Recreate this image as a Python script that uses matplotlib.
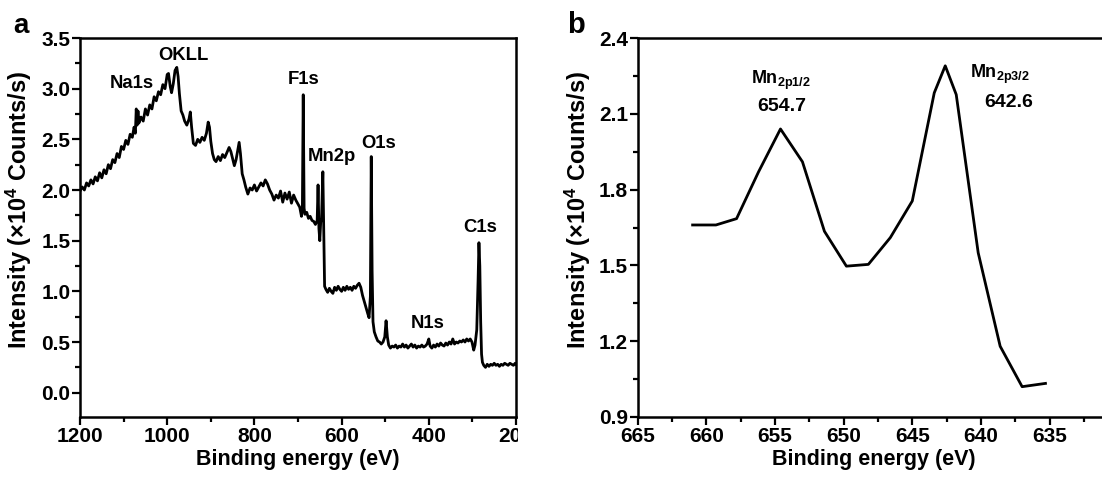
import numpy as np
import matplotlib
matplotlib.use('Agg')
import matplotlib.pyplot as plt
from matplotlib.ticker import MultipleLocator
from matplotlib.transforms import Bbox, TransformedBbox

plt.rcParams['font.family'] = ['Liberation Sans', 'DejaVu Sans']
plt.rcParams['font.weight'] = 'bold'
plt.rcParams['mathtext.fontset'] = 'custom'
plt.rcParams['mathtext.rm'] = 'Liberation Sans:bold'
plt.rcParams['mathtext.bf'] = 'Liberation Sans:bold'
plt.rcParams['mathtext.it'] = 'Liberation Sans:bold'

# survey spectrum (panel a)
survey_energy = [1200, 1195, 1190, 1185, 1180, 1175, 1170, 1165, 1160, 1155, 1150, 1145, 1140, 1135,
                 1130, 1125, 1120, 1115, 1110, 1105, 1100, 1095, 1090, 1085, 1080, 1076, 1073, 1071,
                 1069, 1067, 1065, 1060, 1055, 1050, 1045, 1040, 1035, 1030, 1025, 1020, 1015, 1010,
                 1005, 1000, 997, 993, 990, 986, 982, 978, 975, 972, 968, 964, 960, 955, 950, 947,
                 944, 940, 935, 930, 925, 920, 915, 910, 906, 903, 900, 896, 892, 888, 883, 878,
                 873, 868, 863, 858, 854, 850, 846, 842, 838, 835, 832, 828, 824, 820, 815, 810,
                 805, 800, 795, 790, 785, 780, 775, 770, 765, 760, 755, 750, 745, 740, 735, 730,
                 725, 720, 715, 710, 705, 700, 696, 692, 690, 688, 686, 684, 680, 676, 672, 668,
                 664, 660, 656, 654, 652, 650, 648, 646, 643, 641, 639, 636, 632, 628, 624, 620,
                 616, 612, 608, 604, 600, 596, 592, 588, 584, 580, 576, 572, 568, 564, 560, 556,
                 552, 548, 544, 540, 537, 534, 532, 530, 528, 525, 521, 517, 513, 509, 505, 501,
                 498, 495, 492, 488, 484, 480, 476, 472, 468, 464, 460, 456, 452, 448, 444, 440,
                 436, 432, 428, 424, 420, 416, 412, 408, 404, 400, 397, 393, 389, 385, 381, 377,
                 373, 369, 365, 361, 357, 353, 349, 345, 341, 337, 333, 329, 325, 321, 317, 313,
                 309, 305, 301, 297, 294, 290, 287, 285, 283, 281, 279, 277, 274, 270, 266, 262,
                 258, 254, 250, 246, 242, 238, 234, 230, 226, 222, 218, 214, 210, 206, 202, 200]
survey_counts = [1.99, 2.03, 2.00, 2.07, 2.04, 2.10, 2.06, 2.13, 2.09, 2.17, 2.12, 2.20, 2.16, 2.25,
                 2.21, 2.30, 2.27, 2.36, 2.32, 2.43, 2.40, 2.49, 2.45, 2.55, 2.52, 2.62, 2.56, 2.80,
                 2.64, 2.78, 2.66, 2.72, 2.68, 2.80, 2.74, 2.84, 2.80, 2.92, 2.88, 2.97, 2.94, 3.04,
                 3.00, 3.14, 3.15, 3.02, 2.96, 3.05, 3.18, 3.21, 3.12, 2.95, 2.78, 2.74, 2.68, 2.64,
                 2.70, 2.77, 2.62, 2.46, 2.44, 2.50, 2.47, 2.52, 2.49, 2.56, 2.67, 2.62, 2.48, 2.36,
                 2.30, 2.28, 2.33, 2.29, 2.35, 2.32, 2.37, 2.42, 2.38, 2.31, 2.24, 2.30, 2.40, 2.47,
                 2.36, 2.16, 2.10, 2.03, 1.96, 2.02, 2.00, 2.05, 1.99, 2.03, 2.07, 2.04, 2.10, 2.06,
                 2.00, 1.96, 1.90, 1.95, 1.92, 1.99, 1.88, 1.97, 1.91, 1.98, 1.87, 1.95, 1.90, 1.86,
                 1.83, 1.74, 1.80, 2.94, 1.82, 1.76, 1.78, 1.72, 1.74, 1.70, 1.69, 1.66, 1.70, 2.05,
                 1.62, 1.50, 1.68, 1.72, 2.18, 1.60, 1.05, 1.02, 0.99, 1.03, 1.00, 0.98, 1.04, 1.01,
                 1.05, 1.02, 1.00, 1.04, 1.01, 1.05, 1.02, 1.04, 1.01, 1.05, 1.03, 1.06, 1.08, 1.04,
                 0.96, 0.90, 0.84, 0.78, 0.74, 0.95, 2.33, 1.20, 0.70, 0.60, 0.55, 0.51, 0.50, 0.48,
                 0.50, 0.55, 0.71, 0.55, 0.47, 0.44, 0.46, 0.45, 0.47, 0.44, 0.46, 0.45, 0.48, 0.45,
                 0.47, 0.44, 0.46, 0.48, 0.45, 0.47, 0.44, 0.46, 0.45, 0.47, 0.45, 0.46, 0.48, 0.53,
                 0.46, 0.44, 0.47, 0.45, 0.48, 0.46, 0.49, 0.47, 0.46, 0.49, 0.47, 0.50, 0.48, 0.53,
                 0.48, 0.50, 0.49, 0.51, 0.50, 0.52, 0.50, 0.53, 0.51, 0.53, 0.50, 0.42, 0.47, 0.62,
                 1.10, 1.48, 1.25, 0.70, 0.38, 0.30, 0.27, 0.25, 0.28, 0.26, 0.28, 0.27, 0.29, 0.27,
                 0.28, 0.26, 0.28, 0.27, 0.29, 0.28, 0.27, 0.29, 0.28, 0.27, 0.29, 0.28]

survey_peaks = ['Na1s', 'OKLL', 'F1s', 'Mn2p', 'O1s', 'N1s', 'C1s']
survey_peak_x = [1081, 963, 688, 623, 516, 403, 283]
survey_peak_y = [3.05, 3.33, 3.09, 2.33, 2.46, 0.68, 1.63]

# Mn 2p high resolution (panel b)
mn_energy = [661.0, 659.3, 657.8, 656.2, 654.6, 653.0, 651.4, 649.8, 648.2, 646.6,
             645.0, 643.4, 642.6, 641.8, 640.2, 638.6, 637.0, 635.3]
mn_counts = [1.66, 1.66, 1.685, 1.87, 2.04, 1.91, 1.635, 1.497, 1.504, 1.61,
             1.755, 2.183, 2.29, 2.176, 1.55, 1.18, 1.02, 1.033]

mn_labels = [r'Mn$_{\mathbf{2p1/2}}$', '654.7', r'Mn$_{\mathbf{2p3/2}}$', '642.6']
mn_label_x = [654.6, 654.5, 638.6, 638.0]
mn_label_y = [2.234, 2.127, 2.254, 2.143]

W, H = 1102, 484
fig = plt.figure(figsize=(W / 100, H / 100), dpi=100)


def style(ax):
    for side in ['top', 'right', 'left', 'bottom']:
        ax.spines[side].set_linewidth(1.8)
    ax.tick_params(which='both', direction='out', top=False, right=False, width=1.6, labelsize=15, pad=1)
    ax.tick_params(which='major', length=6)
    ax.tick_params(which='minor', length=3.5)
    for lab in ax.get_xticklabels() + ax.get_yticklabels():
        lab.set_fontweight('bold')


# panel a
ax1 = fig.add_axes([80 / W, 1 - 417 / H, 436 / W, 379 / H])
ax1.plot(survey_energy, survey_counts, color='black', lw=2.0)
ax1.set_xlim(1200, 200)
ax1.set_ylim(-0.24, 3.5)
ax1.set_xticks([1200, 1000, 800, 600, 400, 200])
ax1.xaxis.set_minor_locator(MultipleLocator(100))
ax1.set_yticks(np.arange(0, 3.51, 0.5))
ax1.yaxis.set_minor_locator(MultipleLocator(0.25))
ax1.set_yticklabels([f'{v:.1f}' for v in np.arange(0, 3.51, 0.5)])
style(ax1)
ax1.set_xlabel('Binding energy (eV)', fontsize=15.5, fontweight='bold', labelpad=2)
ax1.set_ylabel('Intensity (×10$^{4}$ Counts/s)', fontsize=17, fontweight='bold')
ax1.yaxis.set_label_coords(-0.106, 0.546)
for name, x, y in zip(survey_peaks, survey_peak_x, survey_peak_y):
    ax1.text(x, y, name, ha='center', va='center', fontsize=13.3, fontweight='bold')
clip = TransformedBbox(Bbox([[0, 0], [518 / W, 1]]), fig.transFigure)
for lab in ax1.get_xticklabels():
    lab.set_clip_box(clip)
    lab.set_clip_on(True)

# panel b
ax2 = fig.add_axes([637.7 / W, 1 - 417 / H, (1110 - 637.7) / W, 379 / H])
ax2.plot(mn_energy, mn_counts, color='black', lw=2.0)
ax2.set_xlim(665, 630.6)
ax2.set_ylim(0.9, 2.4)
ax2.set_xticks([665, 660, 655, 650, 645, 640, 635])
ax2.xaxis.set_minor_locator(MultipleLocator(2.5))
yt = [0.9, 1.2, 1.5, 1.8, 2.1, 2.4]
ax2.set_yticks(yt)
ax2.set_yticklabels([f'{v:.1f}' for v in yt])
ax2.yaxis.set_minor_locator(MultipleLocator(0.15))
style(ax2)
ax2.spines['right'].set_visible(False)
ax2.set_xlabel('Binding energy (eV)', fontsize=15.5, fontweight='bold', labelpad=2)
ax2.set_ylabel('Intensity (×10$^{4}$ Counts/s)', fontsize=17, fontweight='bold')
ax2.yaxis.set_label_coords(-0.095, 0.546)
for i, (t, x, y) in enumerate(zip(mn_labels, mn_label_x, mn_label_y)):
    ax2.text(x, y, t, ha='center', va='center', fontsize=14 if i % 2 else 13, fontweight='bold')

fig.text(21 / W, 1 - 33 / H, 'a', ha='center', va='baseline', fontsize=20, fontweight='bold')
fig.text(576 / W, 1 - 33 / H, 'b', ha='center', va='baseline', fontsize=21, fontweight='bold')

fig.savefig('out.png', dpi=100, facecolor='white')
